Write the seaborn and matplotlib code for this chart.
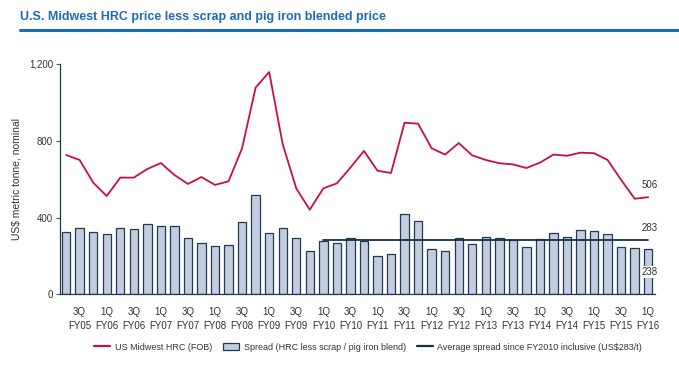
import numpy as np
import pandas as pd
import matplotlib
matplotlib.use('Agg')
import matplotlib.pyplot as plt
import seaborn as sns
from matplotlib.lines import Line2D
from matplotlib.patches import Patch

# quarters 2Q FY05 .. 1Q FY16
quarters = []
for fy in range(5, 17):
    for q in range(1, 5):
        quarters.append(f'{q}Q FY{fy:02d}')
quarters = quarters[1:45]

hrc = [726, 700, 582, 512, 608, 608, 653, 684, 622, 575, 611, 570, 589, 761,
       1077, 1158, 782, 552, 441, 552, 578, 660, 747, 644, 632, 894, 889, 761,
       728, 788, 724, 700, 683, 677, 658, 686, 728, 722, 738, 735, 700, 596,
       498, 506]

spread = [326, 344, 326, 313, 344, 340, 365, 358, 358, 295, 266, 253, 257, 378,
          516, 318, 347, 292, 224, 276, 266, 295, 278, 201, 212, 417, 382, 236,
          227, 295, 260, 299, 295, 281, 245, 287, 318, 300, 337, 331, 313, 245,
          241, 238]

avg_spread = 283
avg_start = '1Q FY10'

df = pd.DataFrame({'quarter': quarters, 'hrc': hrc, 'spread': spread})
df['pos'] = np.arange(len(df))

red = '#c8103c'
navy = '#13304a'
text_col = '#333333'

sns.set_theme(style='white')
plt.rcParams['font.family'] = ['Liberation Sans', 'DejaVu Sans']

fig = plt.figure(figsize=(6.79, 3.71), dpi=100)
ax = fig.add_axes([60 / 679, 1 - 294.3 / 371, 595 / 679, 230.3 / 371])

sns.barplot(data=df, x='quarter', y='spread', order=quarters, color='#c3cddf',
            saturation=1, edgecolor='#1d3c52', linewidth=0.9, width=0.62, ax=ax)
sns.lineplot(data=df, x='pos', y='hrc', color=red, linewidth=1.3, ax=ax)

i0 = quarters.index(avg_start)
ax.plot([i0, len(quarters) - 1], [avg_spread, avg_spread], color=navy, linewidth=1.3, zorder=5)

ax.set_xlim(-0.45, len(quarters) - 0.5)
ax.set_ylim(0, 1200)
ax.set_yticks([0, 400, 800, 1200])
ax.set_yticklabels(['0', '400', '800', '1,200'], fontsize=7, color=text_col)
ticks = list(range(1, len(quarters), 2))
ax.set_xticks(ticks)
ax.set_xticklabels([quarters[i].replace(' ', '\n') for i in ticks], fontsize=7,
                   color=text_col, linespacing=1.5)
ax.tick_params(axis='x', length=0, pad=9)
ax.tick_params(axis='y', length=3, width=0.8, color='#555555', direction='out', left=True, pad=2)
ax.set_xlabel('')
ax.set_ylabel('US$ metric tonne, nominal', fontsize=7.5, color=text_col)
ax.yaxis.set_label_coords(-0.064, 0.5)
sns.despine(ax=ax)
for s in ['left', 'bottom']:
    ax.spines[s].set_color('#1d3c52')
    ax.spines[s].set_linewidth(0.9)

last = len(quarters) - 1
ax.text(last + 0.1, 570, f'{hrc[-1]}', fontsize=7, color=text_col, ha='center', va='center')
ax.text(last + 0.1, 345, f'{avg_spread}', fontsize=7, color=text_col, ha='center', va='center')
ax.text(last + 0.1, 116, f'{spread[-1]}', fontsize=7, color=text_col, ha='center', va='center',
        bbox=dict(facecolor='white', edgecolor='none', pad=0.5), zorder=6)

# title and rule
fig.text(20 / 679, 1 - 17 / 371, 'U.S. Midwest HRC price less scrap and pig iron blended price',
         fontsize=9, fontweight='bold', color='#1b6cb5', va='center', ha='left')
fig.add_artist(Line2D([20 / 679, 1.0], [1 - 29.5 / 371, 1 - 29.5 / 371],
                      color='#1b6cb5', linewidth=2.2))

handles = [Line2D([0], [0], color=red, linewidth=1.6),
           Patch(facecolor='#c3cddf', edgecolor='#1d3c52', linewidth=0.9),
           Line2D([0], [0], color=navy, linewidth=1.6)]
labels = ['US Midwest HRC (FOB)', 'Spread (HRC less scrap / pig iron blend)',
          'Average spread since FY2010 inclusive (US$283/t)']
fig.legend(handles, labels, loc='center', bbox_to_anchor=(368 / 679, 1 - 347 / 371), ncol=3,
           frameon=False, fontsize=6.5, handlelength=1.8, columnspacing=1.2, handletextpad=0.5,
           labelcolor=text_col)

fig.savefig('out.png', dpi=100)
